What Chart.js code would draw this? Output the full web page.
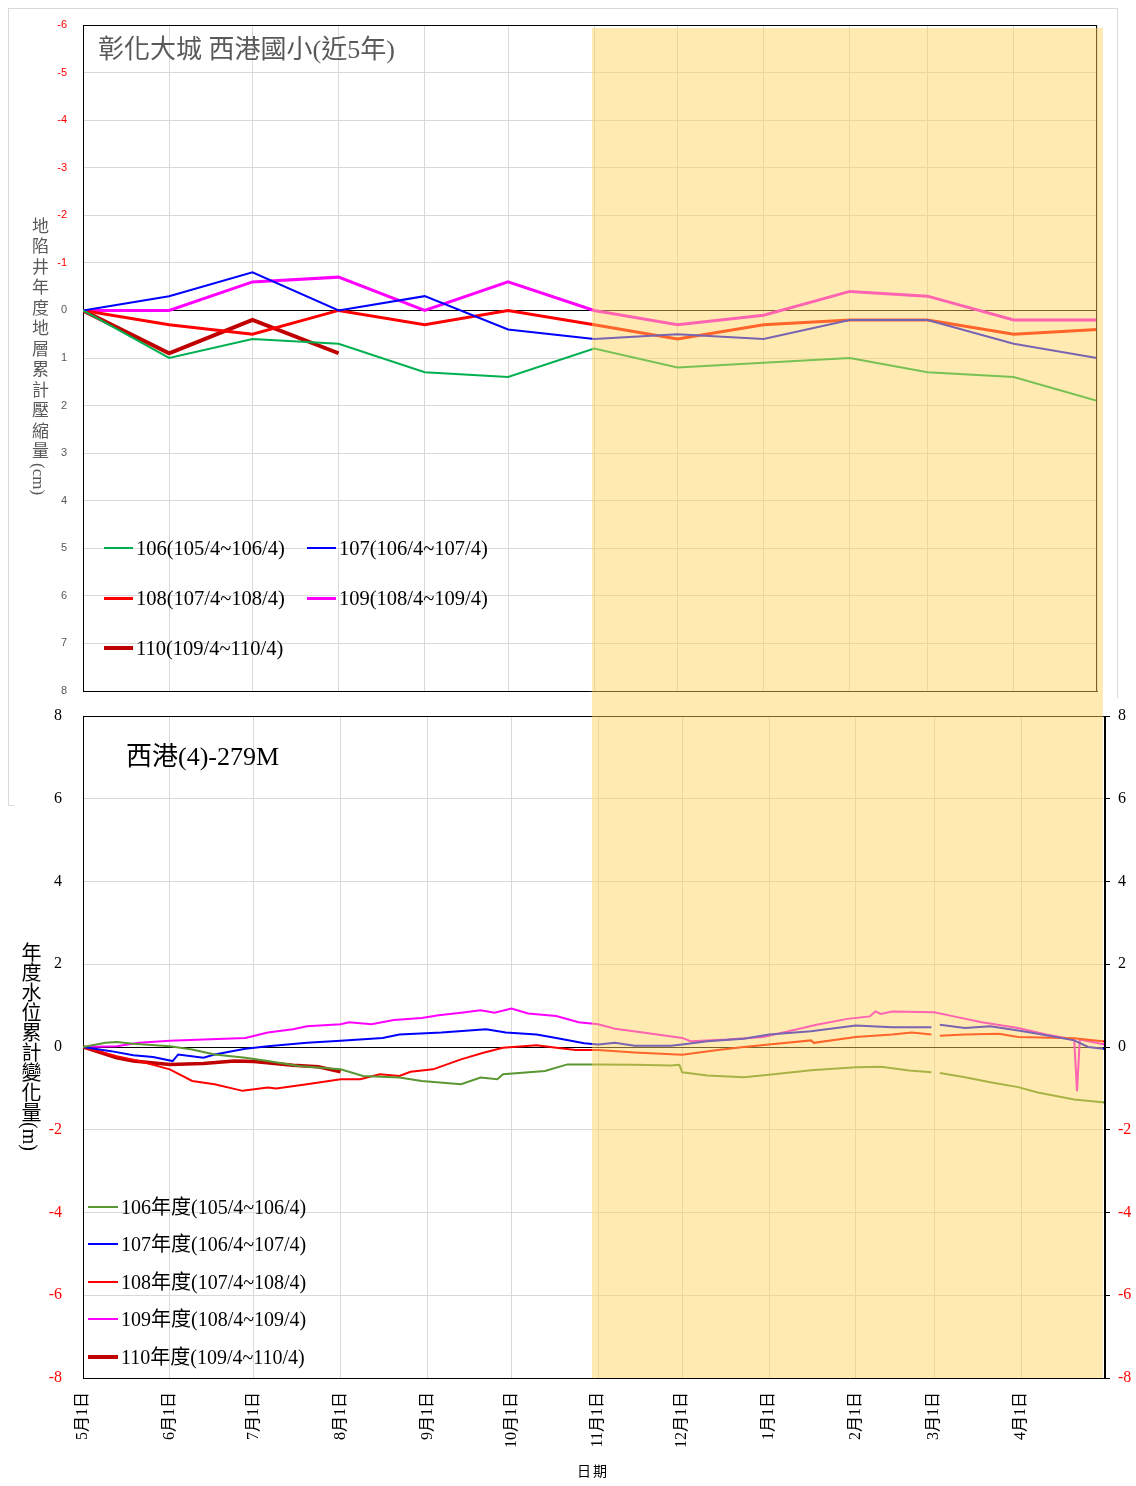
<!DOCTYPE html>
<html><head><meta charset="utf-8">
<script src="https://cdn.jsdelivr.net/npm/chart.js@4.4.1/dist/chart.umd.min.js"></script>
<style>
html,body{margin:0;padding:0;background:#fff;}
body{width:1136px;height:1486px;position:relative;overflow:hidden;font-family:"Liberation Serif","Noto Sans CJK TC",serif;}
#topWrap{position:absolute;left:8px;top:8px;width:1110px;height:798px;border:1px solid #d9d9d9;box-sizing:border-box;background:#fff;z-index:1;}
#topChart{position:absolute;left:0;top:0;}
#botWrap{position:absolute;left:14px;top:698px;width:1122px;height:788px;background:#fff;z-index:2;}
#botChart{position:absolute;left:0;top:0;}
.txt{position:absolute;z-index:3;white-space:nowrap;line-height:1;}
.vert{writing-mode:vertical-rl;text-orientation:mixed;}
.vert .lat{letter-spacing:0;}
#band{position:absolute;left:592px;top:28px;width:511px;height:1350px;background:rgba(255,213,89,0.47);z-index:4;pointer-events:none;}
.leg{position:absolute;z-index:3;display:grid;}
.leg .it{display:flex;align-items:center;color:#000;}
.leg .ln{display:inline-block;}
</style>
</head><body>
<div id="topWrap"><canvas id="topChart" width="1108" height="700" style="width:1108px;height:700px"></canvas></div>
<div id="botWrap"><canvas id="botChart" width="1122" height="788" style="width:1122px;height:788px"></canvas></div>

<div class="txt" style="left:98px;top:37px;font-size:26px;color:#595959;">彰化大城 西港國小(近5年)</div>
<div class="txt vert" style="left:30px;top:217px;font-size:17px;letter-spacing:3.5px;color:#595959;">地陷井年度地層累計壓縮量<span class="lat">(cm)</span></div>
<div class="txt" style="left:126px;top:744px;font-size:26px;color:#000;">西港(4)-279M</div>
<div class="txt vert" style="left:20px;top:942px;font-size:20px;color:#000;">年度水位累計變化量<span class="lat">(m)</span></div>
<div class="txt" style="left:577px;top:1465px;font-size:14px;letter-spacing:2px;color:#000;">日期</div>

<div id="topLegend" class="leg" style="left:104px;top:523px;grid-template-columns:203px 203px;grid-auto-rows:50px;"></div>
<div id="botLegend" class="leg" style="left:88px;top:1188px;grid-template-columns:260px;grid-auto-rows:37.5px;"></div>
<div id="band"></div>

<script>
// ---------- shared x axis (days since 5/1) ----------
const monthDays = [0,31,61,92,123,153,184,214,245,276,304,335,365];
const monthLabels = ['5月1日','6月1日','7月1日','8月1日','9月1日','10月1日','11月1日','12月1日','1月1日','2月1日','3月1日','4月1日',''];

// ---------- top chart: 地層累計壓縮量 (cm), monthly ----------
const topLabels = ['106(105/4~106/4)','107(106/4~107/4)','108(107/4~108/4)','109(108/4~109/4)','110(109/4~110/4)'];
const sub106 = [0,1.0,0.6,0.7,1.3,1.4,0.8,1.2,1.1,1.0,1.3,1.4,1.9];
const sub107 = [0,-0.3,-0.8,0,-0.3,0.4,0.6,0.5,0.6,0.2,0.2,0.7,1.0];
const sub108 = [0,0.3,0.5,0,0.3,0,0.3,0.6,0.3,0.2,0.2,0.5,0.4];
const sub109 = [0,0,-0.6,-0.7,0,-0.6,0,0.3,0.1,-0.4,-0.3,0.2,0.2];
const sub110 = [0,0.9,0.2,0.9];
const topTicks = [-6,-5,-4,-3,-2,-1,0,1,2,3,4,5,6,7,8];

// ---------- bottom chart: 水位累計變化量 (m) ----------
const botLabels = ['106年度(105/4~106/4)','107年度(106/4~107/4)','108年度(107/4~108/4)','109年度(108/4~109/4)','110年度(109/4~110/4)'];
const wl106Days = [0,8,12,18,31,39,47,58,66,77,92,100,113,121,135,142,148,150,165,173,184,197,210,213,214,223,236,245,260,276,285,295,303,304,306,315,324,334,341,354,365];
const wl106Vals = [0,0.1,0.12,0.08,0.02,-0.06,-0.18,-0.26,-0.34,-0.46,-0.54,-0.7,-0.74,-0.82,-0.9,-0.74,-0.78,-0.66,-0.58,-0.42,-0.42,-0.43,-0.45,-0.43,-0.61,-0.69,-0.73,-0.67,-0.56,-0.49,-0.48,-0.57,-0.61,null,-0.63,-0.73,-0.85,-0.97,-1.1,-1.27,-1.34];
const wl107Days = [0,10,18,25,32,34,43,47,58,66,80,92,107,113,128,144,151,162,169,179,184,190,197,210,214,223,236,245,260,276,289,303,304,306,315,324,334,341,354,359,365];
const wl107Vals = [0,-0.1,-0.2,-0.24,-0.34,-0.18,-0.26,-0.18,-0.04,0.02,0.1,0.15,0.22,0.3,0.35,0.43,0.35,0.3,0.22,0.09,0.06,0.1,0.03,0.03,0.06,0.14,0.2,0.3,0.38,0.52,0.48,0.48,null,0.54,0.46,0.5,0.4,0.32,0.16,0,-0.05];
const wl108Days = [0,12,20,31,39,47,57,66,69,80,92,99,106,113,117,125,135,143,150,162,169,176,184,197,214,226,236,245,260,261,276,289,296,303,304,306,315,327,334,354,365];
const wl108Vals = [0,-0.22,-0.34,-0.54,-0.82,-0.9,-1.06,-0.98,-1.0,-0.9,-0.78,-0.78,-0.66,-0.7,-0.6,-0.54,-0.3,-0.14,-0.02,0.04,-0.02,-0.07,-0.07,-0.13,-0.19,-0.08,0,0.06,0.16,0.1,0.24,0.3,0.35,0.3,null,0.27,0.3,0.32,0.24,0.21,0.13];
const wl109Days = [0,12,20,31,43,58,66,75,80,92,95,103,111,121,127,135,142,147,153,159,169,177,184,190,200,214,217,230,243,252,262,273,281,283,285,289,304,311,321,334,344,354,355,356,365];
const wl109Vals = [0,0.02,0.1,0.15,0.18,0.22,0.35,0.43,0.5,0.55,0.6,0.55,0.65,0.7,0.77,0.83,0.89,0.83,0.93,0.81,0.75,0.6,0.55,0.44,0.35,0.22,0.14,0.18,0.24,0.38,0.54,0.68,0.74,0.86,0.8,0.86,0.84,0.74,0.6,0.46,0.3,0.18,-1.07,0.18,0.06];
const wl110Days = [0,12,18,31,43,54,61,75,84,92];
const wl110Vals = [0,-0.26,-0.34,-0.42,-0.4,-0.34,-0.35,-0.44,-0.48,-0.6];
const botTicks = [-8,-6,-4,-2,0,2,4,6,8];

// ---------- styles ----------
const topColors = ['#00b050','#0000ff','#ff0000','#ff00ff','#c00000'];
const topWidths = [2,2,3,3,4];
const botColors = ['#5a9632','#0000ff','#ff0000','#ff00ff','#c00000'];
const botWidths = [2,2,2,2,3.5];

const GRID = '#d9d9d9';

const framePlugin = {
  id:'frame',
  afterDatasetsDraw(chart){
    const a = chart.chartArea, ctx = chart.ctx;
    ctx.save();
    ctx.strokeStyle = '#000'; ctx.lineWidth = 1;
    ctx.beginPath();
    ctx.moveTo(a.left, Math.round(a.top)+0.5); ctx.lineTo(a.right, Math.round(a.top)+0.5);
    ctx.moveTo(Math.round(a.right)-0.5, a.top); ctx.lineTo(Math.round(a.right)-0.5, a.bottom);
    ctx.stroke();
    ctx.restore();
  }
};

function setMonthTicks(axis){ axis.ticks = monthDays.map(v=>({value:v})); }
function noPad(s){ s.paddingTop = 0; s.paddingBottom = 0; s.paddingLeft = 0; s.paddingRight = 0; }

// ---------- top chart ----------
const topSeries = [sub106, sub107, sub108, sub109, sub110];
new Chart(document.getElementById('topChart'), {
  type:'line',
  data:{ datasets: topSeries.map((vals,i)=>({
    label: topLabels[i],
    data: vals.map((v,j)=>({x: monthDays[j], y: v})),
    borderColor: topColors[i], backgroundColor: topColors[i],
    borderWidth: topWidths[i], pointRadius:0, tension:0, fill:false
  }))},
  options:{
    responsive:false, animation:false,
    layout:{padding:{left:0,right:20,top:16,bottom:18}},
    plugins:{legend:{display:false}, tooltip:{enabled:false}},
    scales:{
      x:{type:'linear', min:0, max:365,
        afterBuildTicks: setMonthTicks,
        afterFit(s){ s.height = 0; noPad(s); },
        ticks:{display:false},
        grid:{color:GRID, drawTicks:false},
        border:{color:'#000', width:1}
      },
      y:{type:'linear', reverse:true, min:-6, max:8,
        afterBuildTicks(axis){ axis.ticks = topTicks.map(v=>({value:v})); },
        afterFit(s){ s.width = 74; noPad(s); },
        ticks:{padding:16, font:{family:'"Liberation Sans", sans-serif', size:11},
          color:(c)=> (c.tick && c.tick.value < 0) ? '#ff0000' : '#595959'},
        grid:{drawTicks:false, color:(c)=> (c.tick && c.tick.value === 0) ? '#000' : GRID},
        border:{color:'#000', width:1}
      }
    }
  },
  plugins:[framePlugin]
});

// ---------- bottom chart ----------
const botDays = [wl106Days, wl107Days, wl108Days, wl109Days, wl110Days];
const botVals = [wl106Vals, wl107Vals, wl108Vals, wl109Vals, wl110Vals];
const yTickColor = (c)=> (c.tick && c.tick.value < 0) ? '#ff0000' : '#000';
new Chart(document.getElementById('botChart'), {
  type:'line',
  data:{ datasets: botDays.map((days,i)=>({
    label: botLabels[i],
    data: days.map((d,j)=>({x:d, y: botVals[i][j]})),
    borderColor: botColors[i], backgroundColor: botColors[i],
    borderWidth: botWidths[i], pointRadius:0, tension:0, fill:false, spanGaps:false
  }))},
  options:{
    responsive:false, animation:false,
    layout:{padding:{left:0,right:0,top:18,bottom:0}},
    plugins:{legend:{display:false}, tooltip:{enabled:false}},
    scales:{
      x:{type:'linear', min:0, max:365,
        afterBuildTicks: setMonthTicks,
        afterFit(s){ s.height = 108; noPad(s); },
        ticks:{autoSkip:false, minRotation:90, maxRotation:90, padding:14,
          font:{family:'"Liberation Serif","Noto Sans CJK TC", serif', size:16}, color:'#000',
          callback:(v)=> monthLabels[monthDays.indexOf(v)] || ''},
        grid:{color:GRID, drawTicks:false},
        border:{color:'#000', width:1}
      },
      y:{type:'linear', position:'left', min:-8, max:8,
        afterBuildTicks(axis){ axis.ticks = botTicks.map(v=>({value:v})); },
        afterFit(s){ s.width = 69; noPad(s); },
        ticks:{padding:21, font:{family:'"Liberation Serif", serif', size:16}, color:yTickColor},
        grid:{drawTicks:false, color:(c)=> (c.tick && c.tick.value === 0) ? '#000' : GRID},
        border:{color:'#000', width:1}
      },
      y2:{type:'linear', position:'right', min:-8, max:8,
        afterBuildTicks(axis){ axis.ticks = botTicks.map(v=>({value:v})); },
        afterFit(s){ s.width = 31; noPad(s); },
        ticks:{padding:8, font:{family:'"Liberation Serif", serif', size:16}, color:yTickColor},
        grid:{drawOnChartArea:false, drawTicks:true, tickLength:5, color:'#000'},
        border:{color:'#000', width:1}
      }
    }
  },
  plugins:[framePlugin]
});

// ---------- HTML legends ----------
function buildLegend(id, labels, colors, widths, sampleW, fontSize){
  const box = document.getElementById(id);
  labels.forEach((lab,i)=>{
    const it = document.createElement('div'); it.className='it';
    const ln = document.createElement('span'); ln.className='ln';
    ln.style.width = sampleW+'px'; ln.style.height = widths[i]+'px';
    ln.style.background = colors[i]; ln.style.marginRight='3px';
    const tx = document.createElement('span'); tx.textContent = lab;
    tx.style.fontSize = fontSize+'px'; tx.style.lineHeight='1';
    it.appendChild(ln); it.appendChild(tx); box.appendChild(it);
  });
}
buildLegend('topLegend', topLabels, topColors, topWidths, 29, 20.5);
buildLegend('botLegend', botLabels, botColors, botWidths, 30, 20);
</script>
</body></html>
